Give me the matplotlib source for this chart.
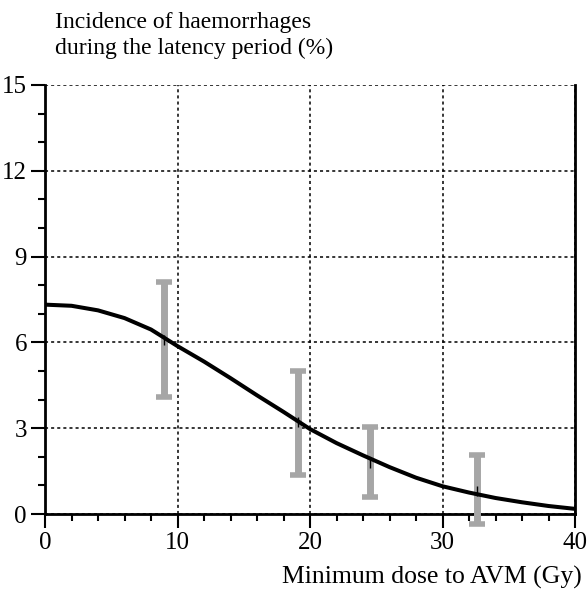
# Incidence of haemorrhages vs minimum dose

import numpy as np
import matplotlib.pyplot as plt
from matplotlib.ticker import MultipleLocator

# fitted curve
dose = [0, 2, 4, 6, 8, 10, 12, 14, 16, 18, 20, 22, 24, 26, 28, 30, 32, 34, 36, 38, 40]
incidence = [7.32, 7.28, 7.12, 6.85, 6.45, 5.87, 5.33, 4.75, 4.15, 3.57, 2.97,
             2.48, 2.05, 1.64, 1.27, 0.97, 0.75, 0.56, 0.41, 0.28, 0.18]

# observed groups with error bars
obs_dose = [9.0, 19.1, 24.5, 32.6]
obs_val = [6.1, 3.2, 1.8, 0.8]
obs_low = [4.1, 1.35, 0.6, -0.35]
obs_high = [8.1, 5.0, 3.04, 2.06]

plt.rcParams['font.family'] = ['Liberation Serif', 'DejaVu Serif']

fig = plt.figure(figsize=(5.87, 5.93), dpi=100)
ax = fig.add_axes([0.0767, 0.1332, 0.9029, 0.7235])

ax.grid(True, which='major', color='black', linestyle=(0, (2, 2)), linewidth=1.1)
ax.set_axisbelow(True)

yerr = [np.array(obs_val) - np.array(obs_low), np.array(obs_high) - np.array(obs_val)]
ax.errorbar(obs_dose, obs_val, yerr=yerr, fmt='none', ecolor='#a6a6a6',
            elinewidth=5, capsize=5.5, capthick=4, zorder=3, clip_on=False)
ax.plot(obs_dose, obs_val, linestyle='none', marker='|', color='black',
        markersize=7, markeredgewidth=1, zorder=4)

ax.plot(dose, incidence, color='black', linewidth=2.9, zorder=5,
        solid_joinstyle='round')

ax.set_xlim(0, 40)
ax.set_ylim(0, 15)
ax.xaxis.set_major_locator(MultipleLocator(10))
ax.xaxis.set_minor_locator(MultipleLocator(2))
ax.yaxis.set_major_locator(MultipleLocator(3))
ax.yaxis.set_minor_locator(MultipleLocator(1))

ax.spines['top'].set_visible(False)
for s in ['left', 'bottom', 'right']:
    ax.spines[s].set_linewidth(2)
ax.tick_params(which='major', direction='out', length=10, width=1.5, labelsize=18, pad=3)
ax.tick_params(which='minor', direction='out', length=5, width=1.5)
ax.tick_params(right=False, which='both')

fig.text(0.094, 0.962, 'Incidence of haemorrhages', fontsize=17, va='center')
fig.text(0.094, 0.918, 'during the latency period (%)', fontsize=17, va='center')
fig.text(0.991, 0.006, 'Minimum dose to AVM (Gy)', fontsize=18.5, ha='right', va='bottom')

plt.savefig('out.png', dpi=100)
